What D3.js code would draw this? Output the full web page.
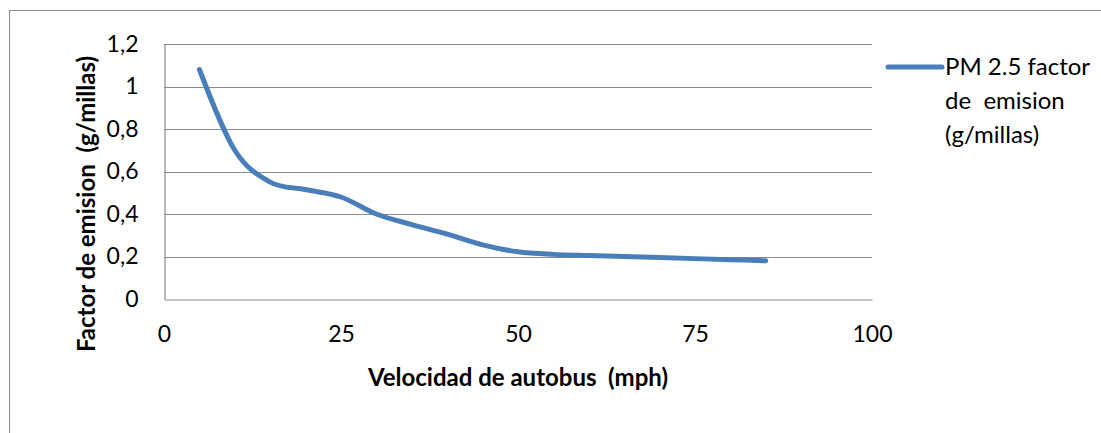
<!DOCTYPE html>
<html>
<head>
<meta charset="utf-8">
<script src="https://cdn.jsdelivr.net/npm/d3@7"></script>
<style>
  html, body { margin: 0; padding: 0; background: #fff; }
  svg { display: block; font-family: Lato, "Open Sans", sans-serif; }
</style>
</head>
<body>
<svg id="chart" width="1101" height="433"></svg>
<script>
// Bus speed (mph) and PM 2.5 emission factor (g/mile)
const speeds = [5, 10, 15, 20, 25, 30, 35, 40, 45, 50, 55, 60, 65, 70, 75, 80, 85];
const pm25 = [1.08, 0.70, 0.55, 0.515, 0.48, 0.40, 0.35, 0.305, 0.255, 0.222, 0.21, 0.205, 0.20, 0.195, 0.19, 0.185, 0.18];
const xTicks = [0, 25, 50, 75, 100];
const yTicks = [0, 0.2, 0.4, 0.6, 0.8, 1.0, 1.2];
const seriesName = ["PM 2.5 factor", "de  emision", "(g/millas)"];
const xTitle = "Velocidad de autobus  (mph)";
const yTitle = "Factor de emision  (g/millas)";

const svg = d3.select("#chart");
const plot = { left: 164, right: 872, top: 44, bottom: 299 };

// Outer chart frame
svg.append("rect")
  .attr("x", 9.5).attr("y", 10.5)
  .attr("width", 1120).attr("height", 460)
  .attr("fill", "#fff").attr("stroke", "#8c8c8c").attr("stroke-width", 1);

const x = d3.scaleLinear().domain([0, 100]).range([plot.left, plot.right]);
const y = d3.scaleLinear().domain([0, 1.2]).range([plot.bottom, plot.top]);

const fmt = d => d3.format("~g")(d).replace(".", ",");

// Horizontal gridlines
svg.append("g")
  .selectAll("line")
  .data(yTicks.filter(d => d > 0))
  .join("line")
  .attr("x1", plot.left).attr("x2", plot.right)
  .attr("y1", d => Math.round(y(d)) + 0.5).attr("y2", d => Math.round(y(d)) + 0.5)
  .attr("stroke", "#8a8a8a").attr("stroke-width", 1.2);

// Y axis
const yAxis = svg.append("g")
  .attr("transform", `translate(${plot.left + 0.5},0)`)
  .call(d3.axisLeft(y).tickValues(yTicks).tickFormat(fmt).tickSize(0).tickPadding(26));
yAxis.select(".domain").attr("stroke", "#8a8a8a").attr("stroke-width", 1.2);
yAxis.selectAll("text").attr("font-size", 23).attr("fill", "#000")
  .attr("font-family", "Lato, sans-serif");

// X axis
const xAxis = svg.append("g")
  .attr("transform", `translate(0,${Math.round(plot.bottom) + 0.5})`)
  .call(d3.axisBottom(x).tickValues(xTicks).tickFormat(d3.format("d")).tickSize(0).tickPadding(26));
xAxis.select(".domain").attr("stroke", "#8a8a8a").attr("stroke-width", 1.2);
xAxis.selectAll("text").attr("font-size", 23).attr("fill", "#000")
  .attr("font-family", "Lato, sans-serif");

// Emission factor curve
const line = d3.line()
  .x((d, i) => x(speeds[i]))
  .y(d => y(d))
  .curve(d3.curveCardinal.tension(0));

svg.append("path")
  .datum(pm25)
  .attr("d", line)
  .attr("fill", "none")
  .attr("stroke", "#4a7ebb")
  .attr("stroke-width", 5)
  .attr("stroke-linecap", "round")
  .attr("stroke-linejoin", "round");

// Axis titles
svg.append("text")
  .attr("x", 518).attr("y", 386)
  .attr("text-anchor", "middle")
  .attr("font-size", 24).attr("font-weight", "bold")
  .style("white-space", "pre")
  .text(xTitle);

svg.append("text")
  .attr("transform", "translate(95,204) rotate(-90)")
  .attr("text-anchor", "middle")
  .attr("font-size", 24).attr("font-weight", "bold")
  .style("white-space", "pre")
  .text(yTitle);

// Legend
const legend = svg.append("g");
legend.append("line")
  .attr("x1", 888).attr("x2", 942)
  .attr("y1", 67).attr("y2", 67)
  .attr("stroke", "#4a7ebb").attr("stroke-width", 5)
  .attr("stroke-linecap", "round");
legend.selectAll("text")
  .data(seriesName)
  .join("text")
  .attr("x", 945)
  .attr("y", (d, i) => 75 + i * 34)
  .attr("font-size", 24)
  .style("white-space", "pre")
  .text(d => d);
</script>
</body>
</html>
